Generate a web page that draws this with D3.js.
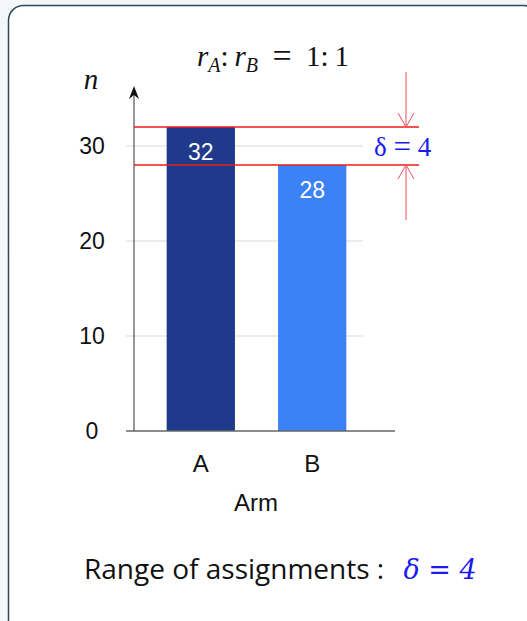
<!DOCTYPE html>
<html>
<head>
<meta charset="utf-8">
<script src="https://cdn.jsdelivr.net/npm/d3@7/dist/d3.min.js"></script>
<style>
  html, body { margin: 0; padding: 0; background: #f4f6f9; }
  svg { display: block; }
  text { white-space: pre; }
</style>
</head>
<body>
<svg id="chart" width="527" height="621"></svg>
<script>
// Assignment counts per arm
const arms = ["A", "B"];
const counts = [32, 28];
const barColors = ["#1f3a8a", "#3b82f6"];
const yTicks = [0, 10, 20, 30];
const ratioLabel = ["A", "B"];
const delta = counts[0] - counts[1];

const svg = d3.select("#chart");
const sans = "Liberation Sans, Arial, sans-serif";
const serif = "Liberation Serif, DejaVu Serif, serif";

// card
svg.append("rect")
  .attr("x", 8.5).attr("y", 5.5)
  .attr("width", 530).attr("height", 640)
  .attr("rx", 15).attr("ry", 15)
  .attr("fill", "#ffffff")
  .attr("stroke", "#2e4a5a")
  .attr("stroke-width", 1.5);

const x0 = 134, baseY = 431;
const y = d3.scaleLinear().domain([0, 10]).range([baseY, baseY - 95]);
const x = d3.scaleBand().domain(arms).range([145.5, 367.5]).paddingInner(0.387).paddingOuter(0.19);

// grid lines
svg.append("g").selectAll("line")
  .data(yTicks.filter(d => d > 0))
  .join("line")
  .attr("x1", 126).attr("x2", 363)
  .attr("y1", d => y(d)).attr("y2", d => y(d))
  .attr("stroke", "#d9d9d9").attr("stroke-width", 1);

// tick labels
svg.append("g").selectAll("text")
  .data(yTicks)
  .join("text")
  .attr("x", 92).attr("y", d => y(d))
  .attr("dy", "0.36em")
  .attr("text-anchor", "middle")
  .attr("font-family", sans)
  .attr("font-size", 23)
  .attr("fill", "#111")
  .text(d => d);

// bars
svg.append("g").selectAll("rect")
  .data(arms)
  .join("rect")
  .attr("x", d => x(d))
  .attr("width", x.bandwidth())
  .attr("y", (d, i) => y(counts[i]))
  .attr("height", (d, i) => baseY - y(counts[i]))
  .attr("fill", (d, i) => barColors[i]);

// value labels inside bars
svg.append("g").selectAll("text")
  .data(arms)
  .join("text")
  .attr("x", d => x(d) + x.bandwidth() / 2)
  .attr("y", (d, i) => y(counts[i]) + 24.5)
  .attr("dy", "0.36em")
  .attr("text-anchor", "middle")
  .attr("font-family", sans)
  .attr("font-size", 23)
  .attr("fill", "#ffffff")
  .text((d, i) => counts[i]);

// baseline and y axis
svg.append("line")
  .attr("x1", 126).attr("x2", 395)
  .attr("y1", baseY).attr("y2", baseY)
  .attr("stroke", "#666").attr("stroke-width", 1.3);
svg.append("line")
  .attr("x1", x0).attr("x2", x0)
  .attr("y1", baseY).attr("y2", 92)
  .attr("stroke", "#555").attr("stroke-width", 1.2);
svg.append("path")
  .attr("d", `M${x0},86 L${x0 - 5},99 L${x0},95 L${x0 + 5},99 Z`)
  .attr("fill", "#111");

// category labels
svg.append("g").selectAll("text")
  .data(arms)
  .join("text")
  .attr("x", d => x(d) + x.bandwidth() / 2)
  .attr("y", 463)
  .attr("dy", "0.36em")
  .attr("text-anchor", "middle")
  .attr("font-family", sans)
  .attr("font-size", 24)
  .attr("fill", "#111")
  .text(d => d);

svg.append("text")
  .attr("x", 256).attr("y", 502)
  .attr("dy", "0.36em")
  .attr("text-anchor", "middle")
  .attr("font-family", sans)
  .attr("font-size", 24)
  .attr("fill", "#111")
  .text("Arm");

// axis name
svg.append("text")
  .attr("x", 91).attr("y", 89)
  .attr("text-anchor", "middle")
  .attr("font-family", serif)
  .attr("font-style", "italic")
  .attr("font-size", 29)
  .attr("fill", "#111")
  .text("n");

// title: r_A : r_B = 1 : 1
const title = svg.append("text")
  .attr("x", 197).attr("y", 66)
  .attr("font-family", serif)
  .attr("font-size", 29)
  .attr("fill", "#111");
title.append("tspan").attr("font-style", "italic").text("r");
title.append("tspan").attr("font-style", "italic").attr("font-size", 20).attr("dy", 6).text(ratioLabel[0]);
title.append("tspan").attr("dy", -6).text(":\u2009");
title.append("tspan").attr("font-style", "italic").text("r");
title.append("tspan").attr("font-style", "italic").attr("font-size", 20).attr("dy", 6).text(ratioLabel[1]);
title.append("tspan").attr("dy", -6).text("\u2002").append("tspan")
  .attr("font-size", 34).attr("dy", 1).text("=");
title.append("tspan").attr("dy", -1).text("\u2002" + "1:\u20091");

// range markers at max and min counts
const hi = d3.max(counts), lo = d3.min(counts);
svg.append("g").selectAll("line")
  .data([hi, lo])
  .join("line")
  .attr("x1", x0).attr("x2", 419)
  .attr("y1", d => y(d)).attr("y2", d => y(d))
  .attr("stroke", "#ee1c1c").attr("stroke-width", 1.5);

const ax = 406;
const arrowColor = "#f0505a";
// top arrow pointing down onto the max line
svg.append("line")
  .attr("x1", ax).attr("x2", ax)
  .attr("y1", 72).attr("y2", y(hi))
  .attr("stroke", arrowColor).attr("stroke-width", 1);
svg.append("path")
  .attr("d", `M${ax - 8},${y(hi) - 14} L${ax},${y(hi)} L${ax + 8},${y(hi) - 14}`)
  .attr("fill", "none").attr("stroke", arrowColor).attr("stroke-width", 1);
// bottom arrow pointing up onto the min line
svg.append("line")
  .attr("x1", ax).attr("x2", ax)
  .attr("y1", 220).attr("y2", y(lo))
  .attr("stroke", arrowColor).attr("stroke-width", 1);
svg.append("path")
  .attr("d", `M${ax - 8},${y(lo) + 14} L${ax},${y(lo)} L${ax + 8},${y(lo) + 14}`)
  .attr("fill", "none").attr("stroke", arrowColor).attr("stroke-width", 1);

// delta label between the lines
svg.append("rect")
  .attr("x", 370).attr("y", y(hi) + 2)
  .attr("width", 72).attr("height", y(lo) - y(hi) - 4)
  .attr("fill", "#ffffff");
const dl = svg.append("text")
  .attr("x", 374).attr("y", 156)
  .attr("font-family", serif)
  .attr("font-size", 27)
  .attr("fill", "#1a1aee");
dl.append("tspan").text("δ ");
dl.append("tspan").attr("font-size", 31).attr("dy", 1).text("=");
dl.append("tspan").attr("dy", -1).text(" " + delta);

// footer
const foot = svg.append("text")
  .attr("x", 84).attr("y", 579)
  .attr("font-family", "Open Sans, Noto Sans, sans-serif")
  .attr("font-size", 28)
  .attr("fill", "#111");
foot.append("tspan").text("Range of assignments : ");
foot.append("tspan")
  .attr("font-family", "DejaVu Serif, Liberation Serif, serif")
  .attr("font-style", "italic")
  .attr("font-size", 27)
  .attr("fill", "#1a1aee")
  .attr("dx", 12)
  .text(`δ = ${delta}`);
</script>
</body>
</html>
